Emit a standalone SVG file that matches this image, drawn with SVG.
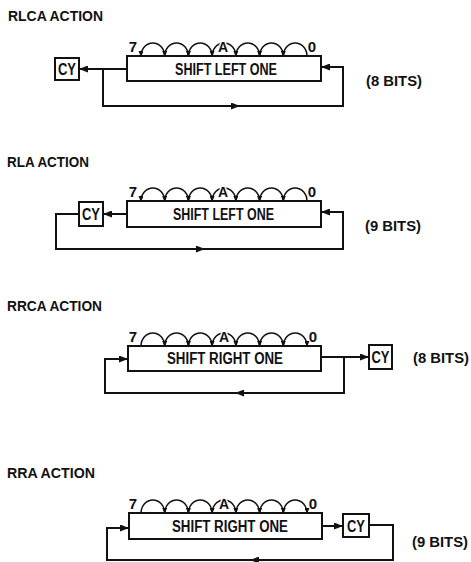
<svg xmlns="http://www.w3.org/2000/svg" width="471" height="562" viewBox="0 0 471 562">
<defs>
<style>
text{font-family:"Liberation Sans Narrow","Liberation Sans",Arial,sans-serif;font-weight:bold;fill:#111}
.title{font-size:14px}
.op{font-size:16px;text-anchor:middle}
.cy{font-size:17px;text-anchor:middle}
.bits{font-size:15px}
.bit{font-size:15px;text-anchor:middle}
.lbA{font-size:14px;text-anchor:middle;stroke:#fff;stroke-width:3px;paint-order:stroke}
.box{fill:#fff;stroke:#111;stroke-width:2}
.ln{fill:none;stroke:#111;stroke-width:2}
.arc{fill:none;stroke:#111;stroke-width:1.5}
</style>
<marker id="ah" viewBox="0 0 9 7" refX="9" refY="3.5" markerWidth="9" markerHeight="7" markerUnits="userSpaceOnUse" orient="auto">
<path d="M0,0 L9,3.5 L0,7 z" fill="#111"/>
</marker>
<marker id="sh" viewBox="0 0 6 5" refX="5" refY="2.5" markerWidth="6" markerHeight="5" markerUnits="userSpaceOnUse" orient="auto">
<path d="M0,0 L6,2.5 L0,5 z" fill="#111"/>
</marker>
</defs>

<!-- Titles and notes -->
<text class="title" x="8" y="21" textLength="95" lengthAdjust="spacingAndGlyphs">RLCA ACTION</text>
<text class="title" x="7" y="167" textLength="82" lengthAdjust="spacingAndGlyphs">RLA ACTION</text>
<text class="title" x="7" y="311" textLength="95" lengthAdjust="spacingAndGlyphs">RRCA ACTION</text>
<text class="title" x="7" y="478" textLength="88" lengthAdjust="spacingAndGlyphs">RRA ACTION</text>
<text class="bits" x="366" y="86" textLength="56" lengthAdjust="spacingAndGlyphs">(8 BITS)</text>
<text class="bits" x="365" y="231" textLength="56" lengthAdjust="spacingAndGlyphs">(9 BITS)</text>
<text class="bits" x="413" y="363" textLength="56" lengthAdjust="spacingAndGlyphs">(8 BITS)</text>
<text class="bits" x="412" y="547" textLength="56" lengthAdjust="spacingAndGlyphs">(9 BITS)</text>

<!-- Connectors -->
<g id="connectors">
<path class="ln" d="M127,69 L79,69" marker-end="url(#ah)"/>
<path class="ln" d="M103,69 L103,106 L343,106 L343,67 L321,67" marker-end="url(#ah)"/>
<path class="ln" d="M230,106 L240,106" marker-end="url(#ah)"/>

<path class="ln" d="M127,214 L103,214" marker-end="url(#ah)"/>
<path class="ln" d="M79,214 L56,214 L56,249 L343,249 L343,212 L321,212" marker-end="url(#ah)"/>
<path class="ln" d="M195,249 L205,249" marker-end="url(#ah)"/>

<path class="ln" d="M321,357 L369,357" marker-end="url(#ah)"/>
<path class="ln" d="M344,357 L344,393 L105,393 L105,359 L128,359" marker-end="url(#ah)"/>
<path class="ln" d="M245,393 L235,393" marker-end="url(#ah)"/>

<path class="ln" d="M322,526 L343,526" marker-end="url(#ah)"/>
<path class="ln" d="M369,525 L393,525 L393,560 L107,560 L107,528 L129,528" marker-end="url(#ah)"/>
<path class="ln" d="M260,560 L250,560" marker-end="url(#ah)"/>
</g>

<!-- RLCA -->
<g id="rlca-register">
<rect class="box" x="127" y="56" width="194" height="25"/>
<text class="op" x="226" y="75" textLength="102" lengthAdjust="spacingAndGlyphs">SHIFT LEFT ONE</text>
<g class="arc" marker-end="url(#sh)">
<path d="M164.7,56 A11.85,13 0 0 0 141,56"/>
<path d="M188.4,56 A11.85,13 0 0 0 164.7,56"/>
<path d="M212.1,56 A11.85,13 0 0 0 188.4,56"/>
<path d="M235.9,56 A11.85,13 0 0 0 212.1,56"/>
<path d="M259.6,56 A11.85,13 0 0 0 235.9,56"/>
<path d="M283.3,56 A11.85,13 0 0 0 259.6,56"/>
<path d="M307,56 A11.85,13 0 0 0 283.3,56"/>
</g>
<text class="bit" x="133" y="52">7</text>
<text class="lbA" x="223" y="52">A</text>
<text class="bit" x="312" y="52">0</text>
</g>
<g id="rlca-cy">
<rect class="box" x="55" y="58" width="24" height="22"/>
<text class="cy" x="67" y="75" textLength="18" lengthAdjust="spacingAndGlyphs">CY</text>
</g>

<!-- RLA -->
<g id="rla-register">
<rect class="box" x="127" y="201" width="194" height="26"/>
<text class="op" x="223.5" y="220" textLength="101" lengthAdjust="spacingAndGlyphs">SHIFT LEFT ONE</text>
<g class="arc" marker-end="url(#sh)">
<path d="M164.7,201 A11.85,13 0 0 0 141,201"/>
<path d="M188.4,201 A11.85,13 0 0 0 164.7,201"/>
<path d="M212.1,201 A11.85,13 0 0 0 188.4,201"/>
<path d="M235.9,201 A11.85,13 0 0 0 212.1,201"/>
<path d="M259.6,201 A11.85,13 0 0 0 235.9,201"/>
<path d="M283.3,201 A11.85,13 0 0 0 259.6,201"/>
<path d="M307,201 A11.85,13 0 0 0 283.3,201"/>
</g>
<text class="bit" x="133" y="197">7</text>
<text class="lbA" x="223" y="197">A</text>
<text class="bit" x="312" y="197">0</text>
</g>
<g id="rla-cy">
<rect class="box" x="79" y="202" width="24" height="24"/>
<text class="cy" x="91" y="220" textLength="18" lengthAdjust="spacingAndGlyphs">CY</text>
</g>

<!-- RRCA -->
<g id="rrca-register">
<rect class="box" x="128" y="346" width="193" height="25"/>
<text class="op" x="225" y="364" textLength="116" lengthAdjust="spacingAndGlyphs">SHIFT RIGHT ONE</text>
<g class="arc" marker-end="url(#sh)">
<path d="M141,346 A11.85,13 0 0 1 164.7,346"/>
<path d="M164.7,346 A11.85,13 0 0 1 188.4,346"/>
<path d="M188.4,346 A11.85,13 0 0 1 212.1,346"/>
<path d="M212.1,346 A11.85,13 0 0 1 235.9,346"/>
<path d="M235.9,346 A11.85,13 0 0 1 259.6,346"/>
<path d="M259.6,346 A11.85,13 0 0 1 283.3,346"/>
<path d="M283.3,346 A11.85,13 0 0 1 307,346"/>
</g>
<text class="bit" x="133" y="342">7</text>
<text class="lbA" x="224" y="342">A</text>
<text class="bit" x="313" y="342">0</text>
</g>
<g id="rrca-cy">
<rect class="box" x="369" y="345" width="23" height="24"/>
<text class="cy" x="380.5" y="363" textLength="18" lengthAdjust="spacingAndGlyphs">CY</text>
</g>

<!-- RRA -->
<g id="rra-register">
<rect class="box" x="129" y="513" width="193" height="26"/>
<text class="op" x="230" y="532" textLength="116" lengthAdjust="spacingAndGlyphs">SHIFT RIGHT ONE</text>
<g class="arc" marker-end="url(#sh)">
<path d="M141,513 A11.85,13 0 0 1 164.7,513"/>
<path d="M164.7,513 A11.85,13 0 0 1 188.4,513"/>
<path d="M188.4,513 A11.85,13 0 0 1 212.1,513"/>
<path d="M212.1,513 A11.85,13 0 0 1 235.9,513"/>
<path d="M235.9,513 A11.85,13 0 0 1 259.6,513"/>
<path d="M259.6,513 A11.85,13 0 0 1 283.3,513"/>
<path d="M283.3,513 A11.85,13 0 0 1 307,513"/>
</g>
<text class="bit" x="133" y="509">7</text>
<text class="lbA" x="224" y="509">A</text>
<text class="bit" x="313" y="509">0</text>
</g>
<g id="rra-cy">
<rect class="box" x="343" y="514" width="26" height="23"/>
<text class="cy" x="356" y="532" textLength="18" lengthAdjust="spacingAndGlyphs">CY</text>
</g>
</svg>
